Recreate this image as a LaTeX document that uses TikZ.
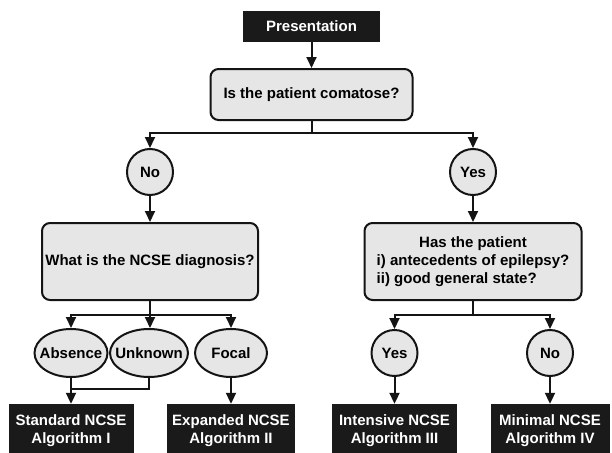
\documentclass[tikz,border=0pt]{standalone}
\usepackage{fontspec}
\setmainfont{Liberation Sans}
\usetikzlibrary{shapes.geometric,arrows.meta}
\definecolor{lightfill}{RGB}{230,230,230}
\definecolor{darkfill}{RGB}{26,26,26}
\definecolor{edge}{RGB}{20,20,20}
\tikzset{
  txt/.style={font=\bfseries\fontsize{15}{18}\selectfont, align=center},
  darkbox/.style={txt, rectangle, fill=darkfill, draw=none, text=white, inner sep=0pt},
  graybox/.style={txt, rectangle, rounded corners=8pt, fill=lightfill, draw=edge, line width=2pt, inner sep=0pt},
  circ/.style={txt, circle, fill=lightfill, draw=edge, line width=2pt, minimum size=46pt, inner sep=0pt},
  ell/.style={ellipse, fill=lightfill, draw=edge, line width=2pt, minimum height=48pt, inner sep=0pt},
  ln/.style={draw=edge, line width=2pt},
  arr/.style={ln, -{Triangle[length=11pt,width=10pt]}},
  lbl/.style={txt, inner sep=0pt}
}
\begin{document}
\begin{tikzpicture}[x=1pt,y=-1pt]
\useasboundingbox (0,0) rectangle (612,452);
% top
\node[darkbox, minimum width=137pt, minimum height=31pt] (pres) at (311.5,26.5) {Presentation};
\node[graybox, minimum width=202pt, minimum height=51pt] (q) at (311.5,94.5) {Is the patient comatose?};
\draw[arr] (pres.south) -- (q.north);
\coordinate (h1) at (311.5,133);
\node[circ] (no1) at (150,172) {No};
\node[circ] (yes1) at (473,172) {Yes};
\draw[ln] (q.south) -- (h1);
\draw[arr] (h1) -| (no1.north);
\draw[arr] (h1) -| (yes1.north);
% second level
\node[graybox, minimum width=216pt, minimum height=77pt] (diag) at (150,261.5) {What is the NCSE diagnosis?};
\node[graybox, minimum width=217pt, minimum height=77pt] (has) at (473,261.5) {\begin{tabular}{@{}l@{}}\multicolumn{1}{@{}c@{}}{Has the patient}\\i) antecedents of epilepsy?\\ii) good general state?\end{tabular}};
\draw[arr] (no1.south) -- (diag.north);
\draw[arr] (yes1.south) -- (has.north);
% left branch
\coordinate (h2) at (150,315);
\node[ell, minimum width=73pt, label={[lbl]center:Absence}] (abs) at (71,353) {};
\node[ell, minimum width=78pt, label={[lbl]center:Unknown}] (unk) at (149,353) {};
\node[ell, minimum width=72pt, label={[lbl]center:Focal}] (foc) at (231,353) {};
\draw[ln] (diag.south) -- (h2);
\draw[arr] (h2) -| (abs.north);
\draw[arr] (h2) -- (h2 |- unk.north);
\draw[arr] (h2) -| (foc.north);
\node[darkbox, minimum width=125pt, minimum height=54pt] (std) at (71,431) {Standard NCSE\\Algorithm I};
\node[darkbox, minimum width=128pt, minimum height=54pt] (exp) at (231,431) {Expanded NCSE\\Algorithm II};
\coordinate (j) at (71,389);
\draw[ln] (unk.south) |- (j);
\draw[arr] (abs.south) -- (std.north);
\draw[arr] (foc.south) -- (exp.north);
% right branch
\coordinate (h3) at (473,315);
\node[circ] (yes2) at (394.5,353) {Yes};
\node[circ] (no2) at (550,353) {No};
\draw[ln] (has.south) -- (h3);
\draw[arr] (h3) -| (yes2.north);
\draw[arr] (h3) -| (no2.north);
\node[darkbox, minimum width=125pt, minimum height=54pt] (int) at (394.5,431) {Intensive NCSE\\Algorithm III};
\node[darkbox, minimum width=119pt, minimum height=54pt] (min) at (550,431) {Minimal NCSE\\Algorithm IV};
\draw[arr] (yes2.south) -- (int.north);
\draw[arr] (no2.south) -- (min.north);
\end{tikzpicture}
\end{document}
